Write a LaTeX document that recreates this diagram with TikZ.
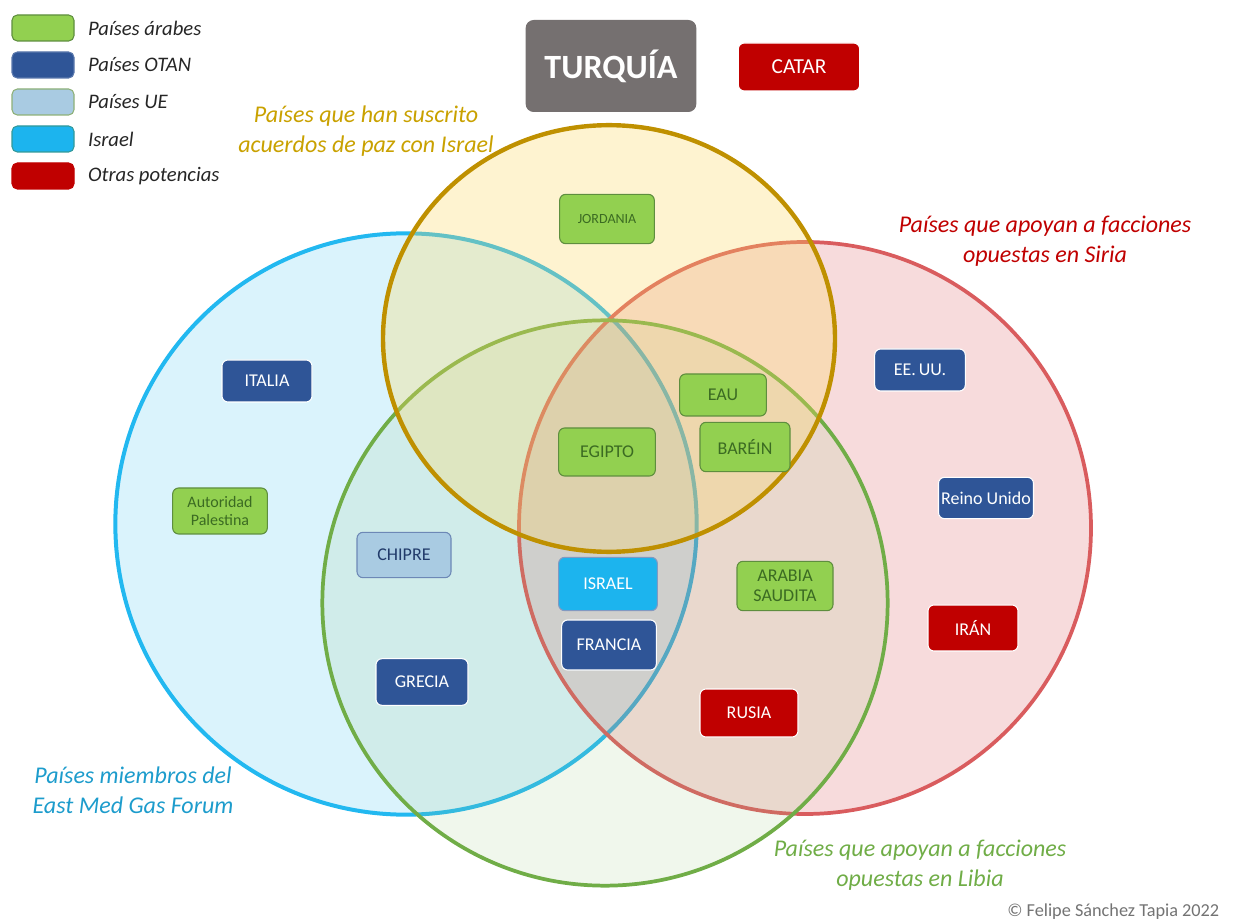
\documentclass[tikz,border=0pt]{standalone}
\usepackage{fontspec}
\setmainfont{Carlito}
\usetikzlibrary{positioning}
\definecolor{arabe}{HTML}{92D050}
\definecolor{arabeborde}{HTML}{5E8E3E}
\definecolor{arabetexto}{HTML}{3B6B22}
\definecolor{otan}{HTML}{2F5597}
\definecolor{ue}{HTML}{A9CBE2}
\definecolor{israelc}{HTML}{1CB4EE}
\definecolor{otras}{HTML}{C00000}
\definecolor{gris}{HTML}{757070}
\definecolor{cgas}{HTML}{22B8F0}
\definecolor{cpaz}{HTML}{BF9000}
\definecolor{csiria}{HTML}{D95C5E}
\definecolor{clibia}{HTML}{70AD47}

\begin{document}
\begin{tikzpicture}[x=0.75pt, y=-0.75pt,
		pais/.style = {rounded corners=4.5pt, minimum width=70pt, minimum height=35pt, inner sep=2pt, align=center, font=\fontsize{13.5}{15}\selectfont},
		arabes/.style = {pais, fill=arabe, draw=arabeborde, thick, text=arabetexto},
		otanes/.style = {pais, fill=otan, draw=white, thick, text=white},
		otrass/.style = {pais, fill=otras, draw=white, thick, text=white},
		titulo/.style = {align=center, font=\itshape\fontsize{18}{22.5}\selectfont}]
	\useasboundingbox (0, 0) rectangle (1240, 923);
	\draw [cgas, line width=3pt, fill=cgas, fill opacity=0.17] (406, 524) circle [radius=218pt];
	\draw [csiria, line width=2.8pt, fill=csiria, fill opacity=0.22] (805, 528) circle [radius=214.5pt];
	\draw [clibia, line width=2.8pt, fill=clibia!70, fill opacity=0.15] (605, 603) circle [radius=212pt];
	\draw [cpaz, line width=3.3pt, fill=yellow!55!orange!60, fill opacity=0.3] (609, 338.5) ellipse [x radius=169.5pt, y radius=160pt];
	\foreach \c/\b/\t [count=\i] in {arabe/arabeborde/Países árabes, otan/otan!80/Países OTAN, ue/arabeborde!70/Países UE, israelc/teal!80/Israel, otras/otras/Otras potencias}
		{
			\node [rounded corners=4pt, minimum width=46.5pt, minimum height=19.5pt, fill=\c, draw=\b, thick] (lg\i) at (43, {28 + 37 * (\i - 1)}) {};
			\node [right=10pt of lg\i, inner sep=0pt, font=\itshape\fontsize{15.5}{17}\selectfont, text=black!85] (lt\i) {\t};
		}
	\node [rounded corners=6pt, fill=gris, text=white, minimum width=128pt, minimum height=69pt, font=\bfseries\fontsize{25.5}{27}\selectfont] (turquia) at (611, 66) {TURQUÍA};
	\node [otrass, minimum width=91pt, minimum height=36pt, font=\fontsize{16}{17}\selectfont] (catar) at (799, 67) {CATAR};
	\node [titulo, text=cpaz!85!yellow] (lbpaz) at (366, 131) {Países que han suscrito\\acuerdos de paz con Israel};
	\node [titulo, text=otras] (lbsiria) at (1045, 241) {Países que apoyan a facciones\\opuestas en Siria};
	\node [titulo, text=cgas!85!black] (lbgas) at (133, 790) {Países miembros del\\East Med Gas Forum};
	\node [titulo, text=clibia] (lblibia) at (920, 865) {Países que apoyan a facciones\\opuestas en Libia};
	\node [arabes, minimum width=71pt, minimum height=37pt, font=\fontsize{10.5}{12}\selectfont] (jordania) at (607, 219) {JORDANIA};
	\node [otanes, minimum width=67.5pt, minimum height=31.5pt] (italia) at (267, 381) {ITALIA};
	\node [arabes, minimum width=71pt, minimum height=34.5pt, font=\fontsize{12}{13.5}\selectfont] (palestina) at (220, 511) {Autoridad\\Palestina};
	\node [pais, fill=ue, draw=otan!70, thick, text=otan!70!black, minimum width=70.5pt, minimum height=34pt] (chipre) at (404, 555) {CHIPRE};
	\node [otanes, minimum width=69pt] (grecia) at (422, 682) {GRECIA};
	\node [arabes, minimum width=72.5pt, minimum height=36pt] (egipto) at (607, 452) {EGIPTO};
	\node [pais, fill=israelc, draw=otan!60, thick, text=white, minimum width=74pt, minimum height=40pt] (israel) at (608, 584) {ISRAEL};
	\node [otanes, minimum width=71pt, minimum height=37.5pt] (francia) at (609, 645) {FRANCIA};
	\node [arabes, minimum width=65pt, minimum height=31.5pt] (eau) at (723, 395) {EAU};
	\node [arabes, minimum width=67.5pt, minimum height=37pt] (barein) at (745, 447) {BARÉIN};
	\node [arabes, minimum width=72pt, minimum height=37pt, font=\fontsize{13.5}{15}\selectfont] (arabia) at (785, 586) {ARABIA\\SAUDITA};
	\node [otrass, minimum width=73.5pt, minimum height=36pt] (rusia) at (749, 713) {RUSIA};
	\node [otanes, minimum width=68pt, minimum height=31.5pt] (eeuu) at (920, 370) {EE.\,UU.};
	\node [otanes, minimum width=69pt, minimum height=31pt] (reino) at (986, 498) {Reino Unido};
	\node [otrass, minimum width=67.5pt, minimum height=34.5pt] (iran) at (973, 628) {IRÁN};
	\node [anchor=east, text=black!55, font=\fontsize{13.7}{15}\selectfont] (autor) at (1224, 912) {© Felipe Sánchez Tapia 2022};
\end{tikzpicture}
\end{document}
